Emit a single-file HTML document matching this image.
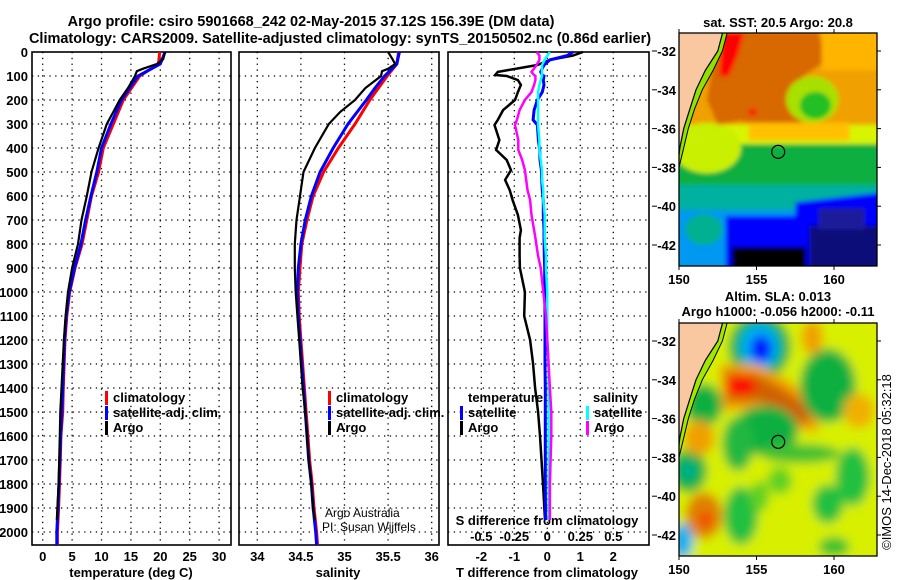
<!DOCTYPE html>
<html><head><meta charset="utf-8">
<style>
html,body{margin:0;padding:0;background:#fff;}
svg{display:block;font-family:"Liberation Sans",sans-serif;}
.t{font-weight:bold;font-size:14.5px;fill:#000;}
.tm{font-weight:bold;font-size:13px;fill:#000;}
.tk{font-weight:bold;font-size:13px;fill:#000;}
.n{font-weight:normal;fill:#000;}
</style></head>
<body>
<svg id="chart" width="900" height="580" viewBox="0 0 900 580"></svg>
<script>
// ---------- data ----------
const depthTicks = [0,100,200,300,400,500,600,700,800,900,1000,1100,1200,1300,1400,1500,1600,1700,1800,1900,2000];
const tempTicks = [0,5,10,15,20,25,30];
const salTicks = [34,34.5,35,35.5,36];
const salTickLabels = ["34","34.5","35","35.5","36"];
const tdiffTicks = [-2,-1,0,1,2];
const sdiffTicks = [-0.5,-0.25,0,0.25,0.5];
const sdiffTickLabels = ["-0.5","-0.25","0","0.25","0.5"];

const climDepth = [0,50,100,150,200,300,400,500,600,700,800,900,1000,1100,1200,1400,1500,1600,1700,1800,1900,2000,2054];
const tempClim = [19.9,19.7,16.5,15.1,13.7,12.0,10.3,9.5,8.3,7.5,6.7,5.5,4.6,4.1,3.8,3.5,3.4,3.1,3.0,2.85,2.7,2.5,2.5];
const tempSat  = [20.8,20.0,16.2,14.8,13.4,11.6,10.0,9.2,8.2,7.3,6.5,5.4,4.5,4.0,3.7,3.4,3.25,3.05,2.9,2.75,2.6,2.4,2.4];
const argoDepth = [0,30,50,70,80,100,150,200,250,300,400,500,600,700,800,900,1000,1100,1200,1400,1500,1600,1700,1800,1900,1950];
const tempArgo = [20.8,20.5,19.4,17.0,16.0,15.7,14.5,13.1,12.0,10.9,9.5,8.3,7.5,6.6,6.0,5.0,4.3,3.9,3.6,3.2,3.0,2.9,2.8,2.7,2.5,2.4];

const salClim = [35.62,35.60,35.49,35.39,35.29,35.12,34.93,34.76,34.64,34.57,34.51,34.49,34.47,34.48,34.50,34.54,34.56,34.58,34.60,34.63,34.65,34.68,34.69];
const salSat  = [35.63,35.60,35.46,35.35,35.25,35.04,34.87,34.72,34.62,34.55,34.50,34.47,34.46,34.47,34.49,34.53,34.55,34.57,34.59,34.62,34.64,34.67,34.68];
const salArgo = [35.50,35.55,35.58,35.50,35.43,35.42,35.24,35.12,34.95,34.82,34.66,34.53,34.49,34.45,34.43,34.43,34.44,34.46,34.48,34.52,34.55,34.57,34.59,34.62,34.64,34.66];

const diffDepth = [0,15,33,54,83,96,100,117,137,167,200,242,283,304,367,408,450,492,533,575,617,679,742,775,850,900,1000,1100,1200,1300,1400,1500,1600,1800,1950];
const tdiffArgo = [1.08,0.78,0.08,-0.3,-1.5,-1.58,-1.23,-0.89,-0.8,-0.89,-0.98,-1.34,-1.5,-1.6,-1.45,-1.55,-1.23,-1.1,-1.28,-1.14,-1.05,-0.89,-0.8,-0.84,-0.84,-0.83,-0.68,-0.7,-0.52,-0.43,-0.37,-0.28,-0.22,-0.13,-0.07];
const tdiffSat  = [0.78,0.6,0.08,-0.1,-0.2,-0.15,-0.1,-0.12,-0.1,-0.15,-0.3,-0.4,-0.43,-0.3,-0.27,-0.23,-0.22,-0.18,-0.17,-0.15,-0.12,-0.12,-0.1,-0.1,-0.09,-0.08,-0.08,-0.07,-0.07,-0.07,-0.06,-0.06,-0.06,-0.06,-0.05];
const sdiffSat  = [0.02,0.0,-0.02,-0.04,-0.04,-0.04,-0.04,-0.05,-0.06,-0.07,-0.07,-0.07,-0.07,-0.07,-0.06,-0.06,-0.05,-0.04,-0.04,-0.03,-0.03,-0.02,-0.02,-0.02,-0.01,-0.01,0.0,0.0,0.0,0.01,0.01,0.01,0.01,0.01,0.01];
const sdiffArgo = [-0.08,-0.06,-0.06,-0.08,-0.12,-0.1,-0.09,-0.09,-0.1,-0.12,-0.17,-0.21,-0.23,-0.245,-0.22,-0.22,-0.19,-0.17,-0.16,-0.15,-0.13,-0.12,-0.1,-0.09,-0.07,-0.05,-0.03,-0.01,0.0,0.01,0.02,0.03,0.03,0.02,0.02];

const mapLonTicks = [150,155,160];
const mapLatTicks = [-32,-34,-36,-38,-40,-42];
const floatLon = 156.4, floatLat = -37.2;

// ---------- helpers ----------
const NS = "http://www.w3.org/2000/svg";
const svg = document.getElementById("chart");
function mk(tag, attrs, parent){
  const e = document.createElementNS(NS, tag);
  for (const k in attrs) e.setAttribute(k, attrs[k]);
  (parent||svg).appendChild(e);
  return e;
}
function txt(x,y,s,anchor,cls,parent){
  const e = mk("text",{x:x,y:y,"text-anchor":anchor||"middle",class:cls||"tk"},parent);
  e.textContent = s;
  return e;
}
const TOP=52, BOT=545;
const yD = d => TOP + d*0.24;
const xT = t => 42.7 + t*5.88;
const xS = s => 257.3 + (s-34)*87.2;
const xTd = d => 547.3 + d*33;
const xSd = s => 547.3 + s*132;

function panelFrame(x0,x1,xticks,xf,name){
  const g = mk("g",{});
  
  
  depthTicks.forEach(d=>{ if(d>0) mk("line",{x1:x0,x2:x1,y1:yD(d),y2:yD(d),stroke:"#000","stroke-width":1.3,"stroke-dasharray":"1.3,4.5"},g);});
  xticks.forEach(v=>{ mk("line",{x1:xf(v),x2:xf(v),y1:TOP,y2:BOT,stroke:"#000","stroke-width":1.3,"stroke-dasharray":"1.3,4.5"},g);});
  mk("rect",{x:x0,y:TOP,width:x1-x0,height:BOT-TOP,fill:"none",stroke:"#000","stroke-width":1.6},g);
  return g;
}
function line(xs,ds,xf,col,w,name){
  const pts = xs.map((v,i)=>xf(v).toFixed(1)+","+yD(ds[i]).toFixed(1)).join(" ");
  const p = mk("polyline",{points:pts,fill:"none",stroke:col,"stroke-width":w,"stroke-linejoin":"miter"});
  
  
  return p;
}
function legendItem(x,y,col,label,name){
  const g = mk("g",{});
  
  
  mk("rect",{x:x,y:y-11,width:3,height:14,fill:col},g);
  txt(x+8,y,label,"start","tk",g);
}

// ---------- titles ----------
txt(311,26,"Argo profile: csiro 5901668_242 02-May-2015 37.12S 156.39E (DM data)","middle","t");
txt(340,43,"Climatology: CARS2009. Satellite-adjusted climatology: synTS_20150502.nc (0.86d earlier)","middle","t");

// ---------- panel 1 temperature ----------
panelFrame(32,231,tempTicks,xT,"temperature-panel");
depthTicks.forEach(d=>{ const e=txt(28,yD(d)+5,String(d),"end");  });
tempTicks.forEach(v=>{ const e=txt(xT(v),561,String(v));  });
txt(131,577,"temperature (deg C)");
line(tempClim,climDepth,xT,"#f00",3,"temp-climatology-line");
line(tempSat,climDepth,xT,"#00f",3,"temp-satellite-line");
line(tempArgo,argoDepth,xT,"#000",2.2,"temp-argo-line");
legendItem(105,402,"#f00","climatology","legend-climatology");
legendItem(105,417,"#00f","satellite-adj. clim.","legend-satellite-adj");
legendItem(105,432,"#000","Argo","legend-argo");

// ---------- panel 2 salinity ----------
panelFrame(239,439,salTicks,xS,"salinity-panel");
salTicks.forEach((v,i)=>{ const e=txt(xS(v),561,salTickLabels[i]);  });
txt(338,577,"salinity");
line(salClim,climDepth,xS,"#f00",3,"sal-climatology-line");
line(salSat,climDepth,xS,"#00f",3,"sal-satellite-line");
line(salArgo,argoDepth,xS,"#000",2.2,"sal-argo-line");
legendItem(328,402,"#f00","climatology","legend-sal-climatology");
legendItem(328,417,"#00f","satellite-adj. clim.","legend-sal-satellite");
legendItem(328,432,"#000","Argo","legend-sal-argo");
const c1=txt(325,517,"Argo Australia","start","n"); c1.setAttribute("font-size","12"); 
const c2=txt(322,531,"PI: Susan Wijffels","start","n"); c2.setAttribute("font-size","12"); 

// ---------- panel 3 differences ----------
panelFrame(448,649,tdiffTicks,xTd,"difference-panel");
tdiffTicks.forEach(v=>{ const e=txt(xTd(v),561,String(v));  });
sdiffTicks.forEach((v,i)=>{ const e=txt(xSd(v),541,sdiffTickLabels[i]);  });
txt(547,525,"S difference from climatology");
txt(547,577,"T difference from climatology");
line(tdiffArgo,diffDepth,xTd,"#000",2.5,"tdiff-argo-line");
line(tdiffSat,diffDepth,xTd,"#00f",3,"tdiff-satellite-line");
line(sdiffSat,diffDepth,xSd,"#0ff",2.5,"sdiff-satellite-line");
line(sdiffArgo,diffDepth,xSd,"#f0f",2.5,"sdiff-argo-line");
txt(468,402,"temperature","start");
legendItem(460,417,"#00f","satellite","legend-tdiff-satellite");
legendItem(460,432,"#000","Argo","legend-tdiff-argo");
txt(593,402,"salinity","start");
legendItem(586,417,"#0ff","satellite","legend-sdiff-satellite");
legendItem(586,432,"#f0f","Argo","legend-sdiff-argo");

// ---------- maps ----------
const MX0=679, MX1=877;
const mx = lon => MX0 + (lon-150)*15.5;
function makeMap(y0,name){
  const my = lat => y0 + 18 + (-32-lat)*19.4;
  const g = mk("g",{});
  
  
  const cid = "clip"+name;
  const cp = mk("clipPath",{id:cid},g);
  mk("rect",{x:MX0,y:y0,width:MX1-MX0,height:233},cp);
  const inner = mk("g",{"clip-path":"url(#"+cid+")"},g);
  return {g,inner,my,y0};
}
function poly(m,pts,fill,parent,extra){
  const s = pts.map(p=>mx(p[0]).toFixed(1)+","+m.my(p[1]).toFixed(1)).join(" ");
  const a = {points:s,fill:fill}; for(const k in (extra||{})) a[k]=extra[k];
  return mk("polygon",a,parent||m.inner);
}
function ell(m,lon,lat,rlon,rlat,fill,parent){
  return mk("ellipse",{cx:mx(lon),cy:m.my(lat),rx:rlon*15.5,ry:rlat*19.4,fill:fill},parent||m.inner);
}
function box(m,l0,l1,a0,a1,fill,parent){
  return mk("rect",{x:mx(l0),y:m.my(a0),width:(l1-l0)*15.5,height:(a0-a1)*19.4,fill:fill},parent||m.inner);
}
const defs = mk("defs",{});
const f1 = mk("filter",{id:"blurS",x:"-20%",y:"-20%",width:"140%",height:"140%"},defs);
mk("feGaussianBlur",{stdDeviation:2},f1);
const f2 = mk("filter",{id:"blurL",x:"-30%",y:"-30%",width:"160%",height:"160%"},defs);
mk("feGaussianBlur",{stdDeviation:5},f2);
const land = [[149,-30],[152.8,-30],[152.8,-31.1],[152.5,-32],[151.7,-33],[151.1,-34],[150.7,-35],[150.3,-36],[150.05,-37],[149.9,-38],[149,-38]];
const shelf = [[153.1,-31.1],[152.8,-32],[152.2,-33],[151.5,-34],[151.0,-35],[150.6,-36],[150.3,-37],[150.0,-38]];
function coast(m,stripColor){
  poly(m,land.slice(1,10).concat(shelf.slice().reverse()),stripColor);
  poly(m,land,"#f9c8a0");
  const s = land.slice(1,10).map(p=>mx(p[0]).toFixed(1)+","+m.my(p[1]).toFixed(1)).join(" ");
  mk("polyline",{points:s,fill:"none",stroke:"#000","stroke-width":1.2},m.inner);
  const s2 = shelf.map(p=>mx(p[0]).toFixed(1)+","+m.my(p[1]).toFixed(1)).join(" ");
  mk("polyline",{points:s2,fill:"none",stroke:"#000","stroke-width":1},m.inner);
}
function mapAxes(m){
  mk("rect",{x:MX0,y:m.y0,width:MX1-MX0,height:233,fill:"none",stroke:"#000","stroke-width":1.3},m.g);
  mapLonTicks.forEach(v=>{
    mk("line",{x1:mx(v),x2:mx(v),y1:m.y0,y2:m.y0-4,stroke:"#000"},m.g);
    mk("line",{x1:mx(v),x2:mx(v),y1:m.y0+233,y2:m.y0+237,stroke:"#000"},m.g);
    const e=txt(mx(v),m.y0+251,String(v),"middle","tk",m.g); 
  });
  mapLatTicks.forEach(v=>{
    mk("line",{x1:MX1,x2:MX1+4,y1:m.my(v),y2:m.my(v),stroke:"#000"},m.g);
    mk("line",{x1:652,x2:657,y1:m.my(v),y2:m.my(v),stroke:"#000"},m.g);
    const e=txt(676,m.my(v)+5,String(v),"end","tk",m.g); 
  });
  const c = mk("circle",{cx:mx(floatLon),cy:m.my(floatLat),r:6.5,fill:"none",stroke:"#000","stroke-width":1.2},m.g);
  
  
}

// SST map
const A = makeMap(33,"sst-map");
txt(778,27,"sat. SST: 20.5 Argo: 20.8","middle","tm");
const ga = mk("g",{filter:"url(#blurS)"},A.inner);
box(A,148,164,-30,-44,"#f0a000",ga);
poly(A,[[152.5,-31],[159,-31],[159.5,-32.5],[158,-33.3],[158,-35.5],[157.5,-36.2],[156,-35.9],[154,-35.6],[152.5,-35.8],[151.8,-34.5]],"#d86800",ga);
box(A,159.2,164,-30,-33.0,"#ffb400",ga);
ell(A,158.6,-34.5,1.7,1.2,"#a8e000",ga);
ell(A,158.8,-34.8,1.0,0.7,"#20c020",ga);
box(A,148,164,-35.8,-37.2,"#d8f400",ga);
box(A,154.5,161,-35.7,-36.6,"#ffc000",ga);
box(A,148,164,-36.8,-39.2,"#10b040",ga);
ell(A,151.8,-37.0,2.2,1.3,"#c8f000",ga);
box(A,148,164,-38.9,-40.3,"#00b0a0",ga);
box(A,148,164,-40.2,-44,"#0098f0",ga);
box(A,153,164,-40.5,-44,"#0000ff",ga);
poly(A,[[157.5,-39.8],[164,-39.2],[164,-44],[157.5,-44]],"#0000ff",ga);
box(A,153.4,158.2,-42.1,-44,"#000",ga);
box(A,158.4,164,-41.0,-44,"#10107a",ga);
box(A,159,162,-40.1,-41.2,"#1a1a9a",ga);
ell(A,151.6,-41.2,1.2,0.8,"#00b090",ga);
poly(A,[[152.8,-31],[154.2,-31],[153.8,-32.2],[153.2,-33.3],[152.6,-33.3]],"#ff0000",ga);
box(A,154.5,155,-35,-35.3,"#ff0000",ga);
coast(A,"#90e000");
mapAxes(A);

// SLA map
const B = makeMap(323,"sla-map");
txt(778,301,"Altim. SLA: 0.013","middle","tm");
txt(778,316,"Argo h1000: -0.056 h2000: -0.11","middle","tm");
const gb = mk("g",{filter:"url(#blurL)"},B.inner);
box(B,148,164,-30,-44,"#d8f000",gb);
ell(B,155.2,-32.3,2.0,1.7,"#10b040",gb);
ell(B,155.2,-32.3,1.3,1.2,"#00b0f0",gb);
ell(B,155.3,-32.4,0.7,0.7,"#0000ff",gb);
poly(B,[[152.6,-33.2],[155,-33.2],[157,-34.0],[159,-35.2],[159,-36.7],[157,-36.5],[155.5,-35.5],[152.8,-35.6]],"#f0a000",gb);
poly(B,[[153.0,-33.6],[155,-33.7],[156.8,-34.5],[158.5,-35.5],[158.3,-36.3],[156.7,-35.9],[155.3,-35.1],[153.1,-35.1]],"#d06000",gb);
ell(B,154.0,-34.3,1.0,0.5,"#ff0000",gb);
ell(B,159.6,-34.3,1.8,1.9,"#10b040",gb);
ell(B,151.6,-35.3,1.2,1.1,"#10b040",gb);
ell(B,155.6,-36.6,2.1,1.3,"#10b040",gb);
ell(B,153.8,-37.3,1.0,1.4,"#20b840",gb);
ell(B,150.6,-38.7,1.2,1.1,"#10b040",gb);
ell(B,150.6,-38.7,0.5,0.5,"#00b090",gb);
ell(B,161.2,-39.0,1.1,1.5,"#20c040",gb);
ell(B,154.0,-41.0,1.1,1.5,"#20c040",gb);
ell(B,159.6,-40.4,1.0,1.0,"#20c040",gb);
ell(B,155.2,-40.0,0.6,0.8,"#60d020",gb);
ell(B,156.5,-39.2,0.8,0.7,"#60d020",gb);
ell(B,151.3,-37.0,1.0,0.9,"#f0a000",gb);
ell(B,151.6,-41.0,1.2,1.2,"#e08000",gb);
ell(B,151.7,-41.2,0.35,0.35,"#ff0000",gb);
ell(B,161.6,-35.6,1.0,0.9,"#f0b000",gb);
ell(B,158.6,-31.8,0.7,0.9,"#f0a000",gb);
ell(B,157.8,-37.8,2.6,0.5,"#40c030",gb);
ell(B,150.2,-42.3,0.7,0.9,"#00b0f0",gb);
ell(B,160,-42.6,1.0,0.5,"#40c030",gb);
coast(B,"#a0e800");
mapAxes(B);

const cr = txt(0,0,"©IMOS 14-Dec-2018 05:32:18","middle","n");
cr.setAttribute("font-size","13");
cr.setAttribute("transform","translate(891,462) rotate(-90)");

</script>
</body></html>
